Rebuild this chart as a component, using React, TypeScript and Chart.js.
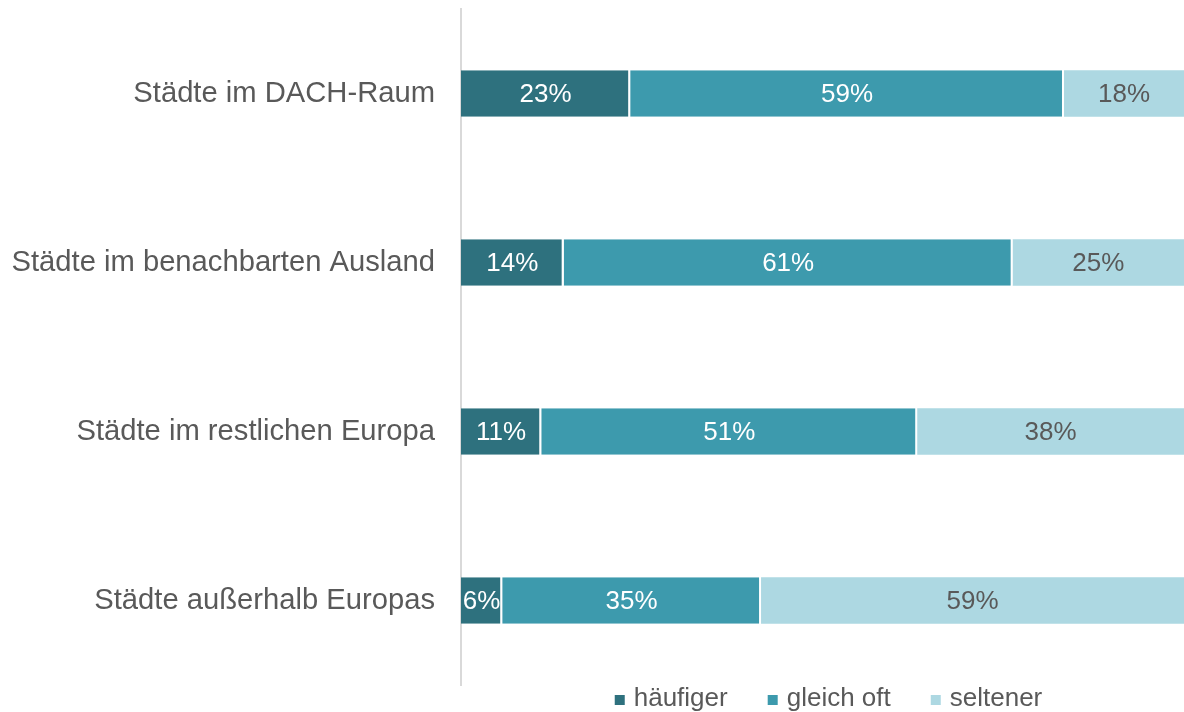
import React, { useEffect, useRef } from "react";
import { Chart, registerables } from "chart.js";

Chart.register(...registerables);

const categories = [
  "Städte im DACH-Raum",
  "Städte im benachbarten Ausland",
  "Städte im restlichen Europa",
  "Städte außerhalb Europas",
];
const seriesNames = ["häufiger", "gleich oft", "seltener"];
const haeufiger = [23.4, 14.2, 11.1, 5.7];
const gleichOft = [60.0, 62.1, 52.0, 35.8];
const seltener = [16.6, 23.7, 36.9, 58.5];
const haeufigerLabels = ["23%", "14%", "11%", "6%"];
const gleichOftLabels = ["59%", "61%", "51%", "35%"];
const seltenerLabels = ["18%", "25%", "38%", "59%"];
const colors = ["#2E717E", "#3D9AAD", "#ADD8E2"];
const labelColors = ["#FFFFFF", "#FFFFFF", "#595959"];

const FONT = "'Liberation Sans', Arial, sans-serif";

const dataLabelPlugin = {
  id: "dataLabels",
  afterDatasetsDraw(chart: any) {
    const ctx = chart.ctx;
    const labelSets = [haeufigerLabels, gleichOftLabels, seltenerLabels];
    ctx.save();
    ctx.font = `26px ${FONT}`;
    ctx.textAlign = "center";
    ctx.textBaseline = "middle";
    chart.data.datasets.forEach((ds: any, di: number) => {
      const meta = chart.getDatasetMeta(di);
      ctx.fillStyle = labelColors[di];
      meta.data.forEach((el: any, i: number) => {
        const cx = (el.x + el.base) / 2;
        ctx.fillText(labelSets[di][i], cx, el.y + 1);
      });
    });
    ctx.restore();
  },
};

const legendPlugin = {
  id: "customLegend",
  afterDraw(chart: any) {
    const ctx = chart.ctx;
    ctx.save();
    ctx.font = `26px ${FONT}`;
    ctx.textBaseline = "middle";
    ctx.textAlign = "left";
    const box = 10;
    const gap = 9;
    const spacing = 40;
    const items = chart.data.datasets.map((ds: any) => ({
      text: ds.label,
      color: ds.backgroundColor,
      w: ctx.measureText(ds.label).width,
    }));
    let total = 0;
    items.forEach((it: any, i: number) => {
      total += box + gap + it.w + (i < items.length - 1 ? spacing : 0);
    });
    const ca = chart.chartArea;
    let x = (ca.left + ca.right) / 2 + 6 - total / 2;
    const y = 699;
    items.forEach((it: any) => {
      ctx.fillStyle = it.color;
      ctx.fillRect(x, y - 4, box, box);
      x += box + gap;
      ctx.fillStyle = "#595959";
      ctx.fillText(it.text, x, y);
      x += it.w + spacing;
    });
    ctx.restore();
  },
};

export default function App() {
  const ref = useRef<HTMLCanvasElement | null>(null);
  useEffect(() => {
    document.body.style.margin = "0";
    const values = [haeufiger, gleichOft, seltener];
    const chart = new Chart(ref.current as HTMLCanvasElement, {
      type: "bar",
      data: {
        labels: categories,
        datasets: seriesNames.map((name, i) => ({
          label: name,
          data: values[i],
          backgroundColor: colors[i],
          borderColor: "#FFFFFF",
          borderWidth: { top: 0, bottom: 0, left: 0, right: i < seriesNames.length - 1 ? 2 : 0 },
          borderSkipped: false,
          barPercentage: 1,
          categoryPercentage: 0.276,
        })),
      },
      options: {
        indexAxis: "y",
        responsive: false,
        animation: false,
        layout: { padding: { top: 9, bottom: 27, left: 0, right: 0 } },
        plugins: {
          legend: { display: false },
          tooltip: { enabled: false },
        },
        scales: {
          x: {
            stacked: true,
            min: 0,
            max: 100,
            display: false,
          },
          y: {
            stacked: true,
            grid: { display: false, drawTicks: false },
            border: { display: true, color: "#D9D9D9", width: 2 },
            ticks: {
              color: "#595959",
              font: { family: FONT, size: 29.2 },
              padding: 26,
            },
            afterFit(scale: any) {
              scale.width = 461;
              scale.paddingTop = 0;
              scale.paddingBottom = 0;
            },
          },
        },
      },
      plugins: [dataLabelPlugin, legendPlugin],
    });
    return () => chart.destroy();
  }, []);
  return (
    <div style={{ width: 1184, height: 712 }}>
      <canvas ref={ref} width={1184} height={712} />
    </div>
  );
}
